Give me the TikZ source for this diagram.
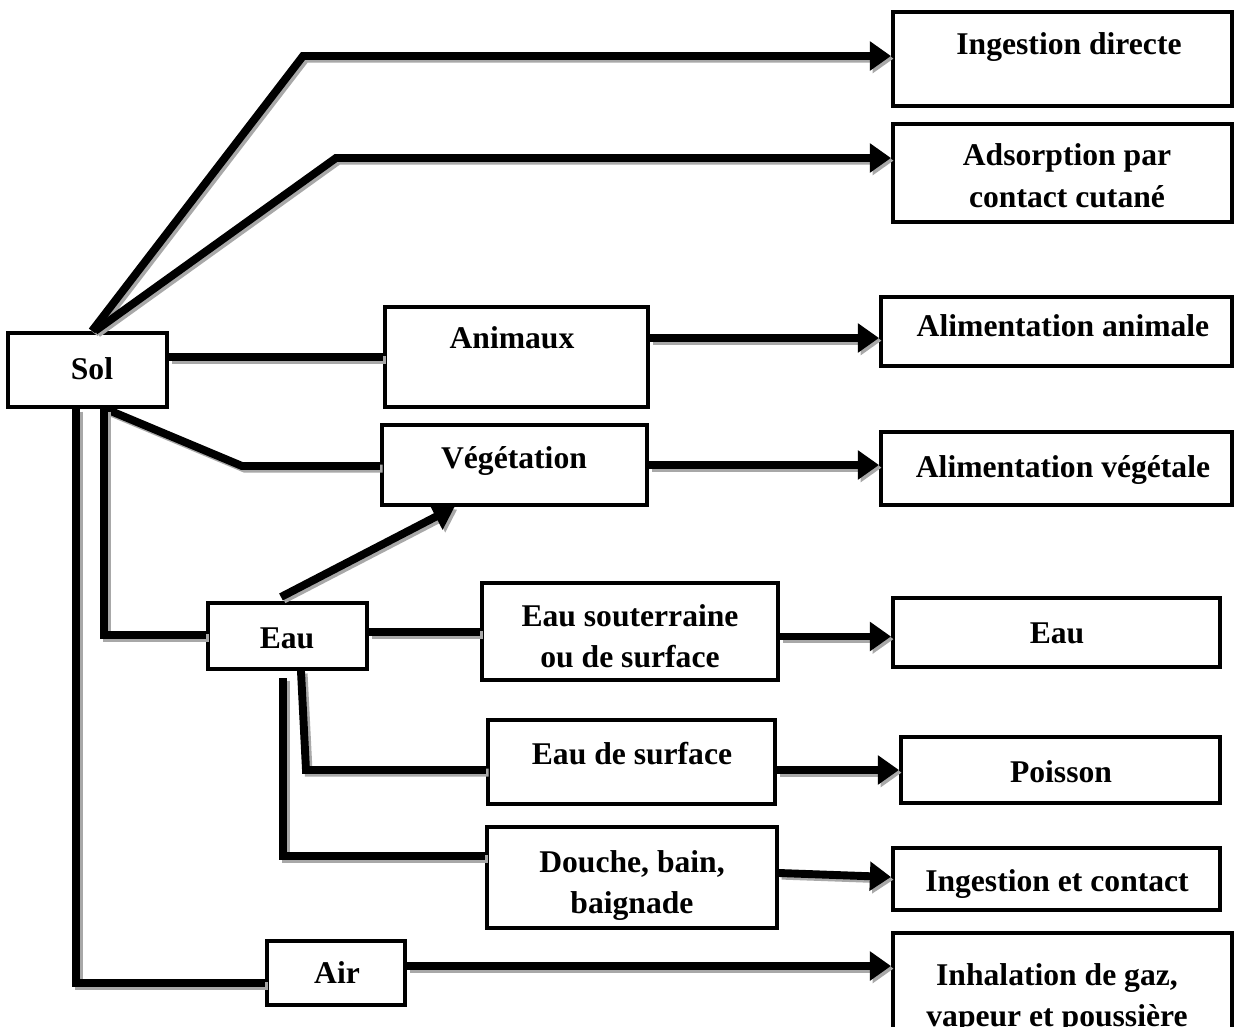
\documentclass[tikz,border=0pt]{standalone}
\usepackage{fontspec}
\setmainfont{Liberation Serif}
\usetikzlibrary{arrows.meta,calc,fit}
\definecolor{shadegray}{HTML}{A8A8A8}
\tikzset{
  box/.style={draw, line width=2.3pt, inner sep=0pt},
  lbl/.style={font=\fontsize{18}{23.8}\selectfont\bfseries, inner sep=0pt, anchor=base},
  wire/.style={line width=4.5pt},
  wireshade/.style={wire, draw=shadegray, transform canvas={shift={(1.5pt,-1.5pt)}}},
  tip/.style={-{Triangle[length=12pt,width=16pt]}},
}
% a connector with its grey drop shadow
\newcommand{\conn}[2][]{\draw[wireshade,#1] #2; \draw[wire,#1] #2;}
\newcommand{\twolines}[2]{\begin{tabular}[t]{@{}c@{}}#1\\#2\end{tabular}}

\begin{document}
\begin{tikzpicture}[x=0.02cm, y=-0.02cm]
\useasboundingbox (0,0) rectangle (1238,1027);
\clip (0,0) rectangle (1238,1027);

% boxes
\node[box, fit={(8,333) (167,407)}] (sol) {};
\node[box, fit={(893,12) (1232,106)}] (ingd) {};
\node[box, fit={(893,124) (1232,222)}] (adsc) {};
\node[box, fit={(385,307) (648,407)}] (anim) {};
\node[box, fit={(881,297) (1232,366)}] (alan) {};
\node[box, fit={(382,425) (647,505)}] (veg) {};
\node[box, fit={(881,432) (1232,505)}] (alveg) {};
\node[box, fit={(208,603) (367,669)}] (eau) {};
\node[box, fit={(482,583) (778,680)}] (eaus) {};
\node[box, fit={(893,598) (1220,667)}] (eaur) {};
\node[box, fit={(488,720) (775,804)}] (eaud) {};
\node[box, fit={(901,737) (1220,803)}] (pois) {};
\node[box, fit={(487,827) (777,928)}] (douche) {};
\node[box, fit={(893,848) (1220,910)}] (ingc) {};
\node[box, fit={(267,941) (405,1005)}] (air) {};
\node[box, fit={(893,933) (1232,1045)}] (inha) {};

% labels
\node[lbl] (t-sol) at (92,379) {Sol};
\node[lbl] (t-ingd) at (1069,55) {Ingestion directe};
\node[lbl] (t-adsc) at (1067,166) {\twolines{Adsorption par}{contact cutané}};
\node[lbl] (t-anim) at (512,349) {Animaux};
\node[lbl] (t-alan) at (1063,337) {Alimentation animale};
\node[lbl] (t-veg) at (514,468) {Végétation};
\node[lbl] (t-alveg) at (1063,477) {Alimentation végétale};
\node[lbl] (t-eau) at (287,648) {Eau};
\begin{scope}
  \clip (eaus.north west) rectangle ($(eaus.south east)+(0,-13)$);
  \node[lbl] (t-eaus) at (630,626) {\twolines{Eau souterraine}{ou de surface}};
\end{scope}
\node[lbl] (t-eaur) at (1057,643) {Eau};
\node[lbl] (t-eaud) at (632,764) {Eau de surface};
\node[lbl] (t-pois) at (1061,782) {Poisson};
\node[lbl] (t-douche) at (632,872) {\twolines{Douche, bain,}{baignade}};
\node[lbl] (t-ingc) at (1057,891) {Ingestion et contact};
\node[lbl] (t-air) at (337,983) {Air};
\node[lbl] (t-inha) at (1057,985) {\twolines{Inhalation de gaz,}{vapeur et poussière}};

% bend points
\coordinate (k1) at (303,56);
\coordinate (k2) at (336,158);
\coordinate (k5) at (242,466);
\coordinate (k8) at (104,635);
\coordinate (k9) at (76,983);
\coordinate (k12) at (306,770);
\coordinate (k14) at (283,856);

% connectors
\conn[tip]{($(sol.north west)+(86,0)$) -- (k1) -- (ingd.west |- k1)}
\conn[tip]{($(sol.north west)+(89,0)$) -- (k2) -- (adsc.west |- k2)}
\conn{($(sol.east)+(0,-13)$) coordinate (s3) -- (anim.west |- s3)}
\conn[tip]{($(anim.east)+(0,-19)$) coordinate (s4) -- (alan.west |- s4)}
\conn{($(sol.south west)+(100,0)$) -- (k5) -- (veg.west |- k5)}
\conn[tip]{(veg.east) -- (alveg.west |- veg.east)}
\conn[tip]{($(eau.north west)+(75,-4)$) -- ($(veg.south)+(-60,0)$)}
\conn{(sol.south -| k8) -- (k8) -- (eau.west |- k8)}
\conn{(sol.south -| k9) -- (k9) -- (air.west |- k9)}
\conn{($(eau.east)+(0,-4)$) coordinate (s10) -- (eaus.west |- s10)}
\conn[tip]{($(eaus.east)+(0,5)$) coordinate (s11) -- (eaur.west |- s11)}
\conn{($(eau.south west)+(95,0)$) -- (k12) -- (eaud.west |- k12)}
\conn[tip]{($(eaud.east)+(0,8)$) coordinate (s13) -- (pois.west |- s13)}
\conn{($(eau.south -| k14)+(0,7)$) -- (k14) -- (douche.west |- k14)}
\conn[tip]{($(douche.east)+(0,-4.5)$) -- ($(ingc.west)+(0,-2)$)}
\conn[tip]{($(air.east)+(0,-7)$) coordinate (s16) -- (inha.west |- s16)}
\end{tikzpicture}
\end{document}
